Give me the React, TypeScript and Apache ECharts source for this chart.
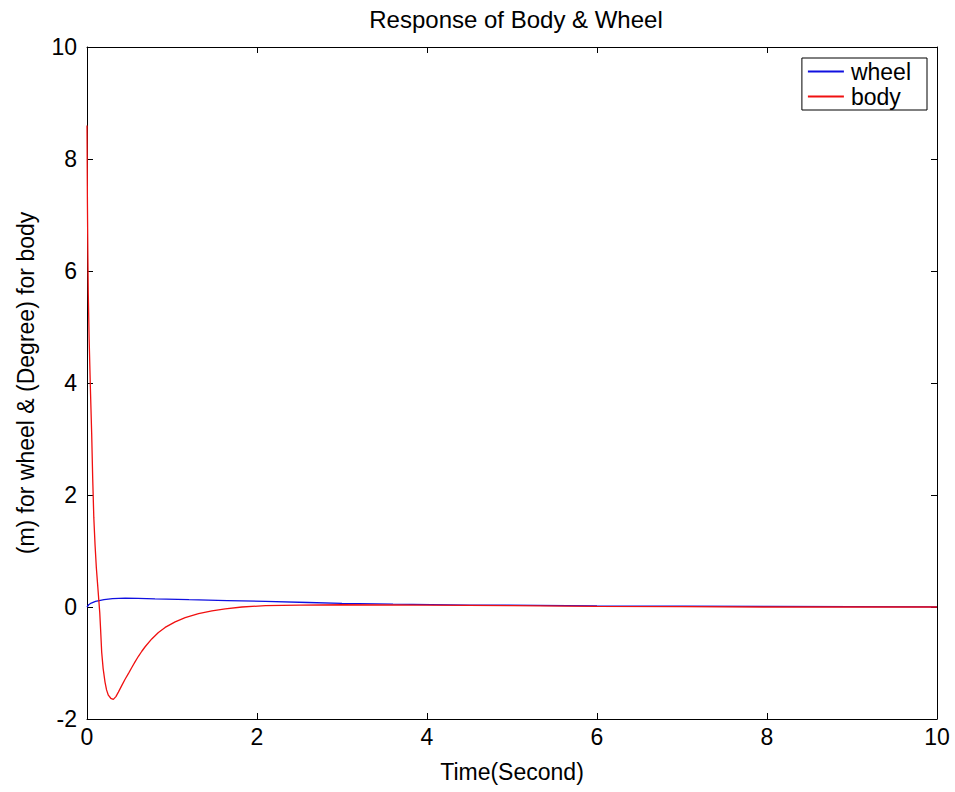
import React, { useEffect, useRef } from "react";
import * as echarts from "echarts";

const titleText = "Response of Body & Wheel";
const xName = "Time(Second)";
const yName = "(m) for wheel & (Degree) for body";
const seriesNames = ["wheel", "body"];

const wheelT = [0, 0.02, 0.05, 0.1, 0.2, 0.3, 0.45, 0.6, 0.8, 1.2, 1.65, 2.1, 2.6, 3.0, 3.6, 4.5, 5.3, 6.0, 7.0, 8.0, 9.0, 10];
const wheelV = [0, 0.04, 0.07, 0.1, 0.13, 0.15, 0.16, 0.155, 0.145, 0.13, 0.115, 0.1, 0.08, 0.065, 0.05, 0.035, 0.03, 0.02, 0.015, 0.01, 0.006, 0.004];

const bodyT = [0, 0.005, 0.01, 0.015, 0.025, 0.04, 0.055, 0.067, 0.08, 0.095, 0.11, 0.125, 0.14, 0.15, 0.16, 0.173, 0.19, 0.212, 0.23, 0.251, 0.28, 0.31, 0.34, 0.369, 0.41, 0.448, 0.49, 0.527, 0.565, 0.605, 0.645, 0.684, 0.762, 0.84, 0.919, 1.037, 1.155, 1.312, 1.47, 1.626, 1.823, 2.1, 2.5, 3.0, 4.0, 5.0, 6.0, 7.0, 8.0, 9.0, 10];
const bodyV = [8.6, 7.2, 6.3, 5.6, 4.8, 3.9, 3.1, 2.3, 1.6, 1.1, 0.7, 0.4, 0.1, -0.1, -0.4, -0.81, -1.1, -1.34, -1.48, -1.575, -1.63, -1.65, -1.6, -1.52, -1.4, -1.29, -1.18, -1.08, -0.98, -0.88, -0.79, -0.71, -0.57, -0.455, -0.365, -0.265, -0.19, -0.12, -0.07, -0.035, 0.0, 0.025, 0.035, 0.04, 0.035, 0.025, 0.01, 0.005, 0.0, 0.0, 0.0];

const xTicks = { min: 0, max: 10, interval: 2 };
const yTicks = { min: -2, max: 10, interval: 2 };

export default function App() {
  const ref = useRef<HTMLDivElement>(null);
  useEffect(() => {
    if (!ref.current) return;
    const chart = echarts.init(ref.current, null, { renderer: "svg" });
    const font = "'Liberation Sans', Arial, Helvetica, sans-serif";
    const fs = 23;
    const axisCommon = {
      axisLine: { show: true, onZero: false, lineStyle: { color: "#000", width: 1 } },
      axisTick: { show: true, inside: true, length: 6, lineStyle: { color: "#000" } },
      splitLine: { show: false },
    };
    chart.setOption({
      animation: false,
      backgroundColor: "#fff",
      textStyle: { fontFamily: font },
      title: {
        text: titleText,
        left: 511,
        textAlign: "center",
        top: 2,
        textStyle: { fontSize: 24, fontWeight: "normal", color: "#000", fontFamily: font },
      },
      grid: { left: 87, right: 18, top: 47, bottom: 73, containLabel: false },
      legend: {
        data: seriesNames,
        right: 28,
        top: 58,
        orient: "vertical",
        backgroundColor: "#fff",
        borderColor: "#000",
        borderWidth: 1,
        borderRadius: 0,
        padding: [2, 16, 2, 6],
        itemGap: 2,
        itemWidth: 36,
        itemHeight: 2,
        icon: "rect",
        align: "left",
        textStyle: { fontSize: fs, color: "#000", fontFamily: font, padding: [0, 0, 0, 2] },
      },
      xAxis: [
        {
          type: "value",
          ...xTicks,
          position: "bottom",
          ...axisCommon,
          axisLabel: { fontSize: fs, color: "#000", margin: 6, fontFamily: font },
          name: xName,
          nameLocation: "middle",
          nameGap: 41,
          nameTextStyle: { fontSize: fs, color: "#000", fontFamily: font },
        },
        {
          type: "value",
          ...xTicks,
          position: "top",
          ...axisCommon,
          axisLabel: { show: false },
        },
      ],
      yAxis: [
        {
          type: "value",
          ...yTicks,
          position: "left",
          ...axisCommon,
          axisLabel: { fontSize: fs, color: "#000", margin: 10, fontFamily: font },
          name: yName,
          nameLocation: "middle",
          nameGap: 50,
          nameTextStyle: { fontSize: fs, color: "#000", fontFamily: font },
        },
        {
          type: "value",
          ...yTicks,
          position: "right",
          ...axisCommon,
          axisLabel: { show: false },
        },
      ],
      series: [
        {
          name: seriesNames[0],
          type: "line",
          data: wheelT.map((t, i) => [t, wheelV[i]]),
          showSymbol: false,
          color: "#1010e0",
          lineStyle: { width: 1.3, color: "#1010e0" },
        },
        {
          name: seriesNames[1],
          type: "line",
          data: bodyT.map((t, i) => [t, bodyV[i]]),
          showSymbol: false,
          color: "#f01010",
          lineStyle: { width: 1.3, color: "#f01010" },
        },
      ],
    });
    return () => chart.dispose();
  }, []);
  return <div ref={ref} style={{ width: 955, height: 792, position: "absolute", left: 0, top: 0 }} />;
}
